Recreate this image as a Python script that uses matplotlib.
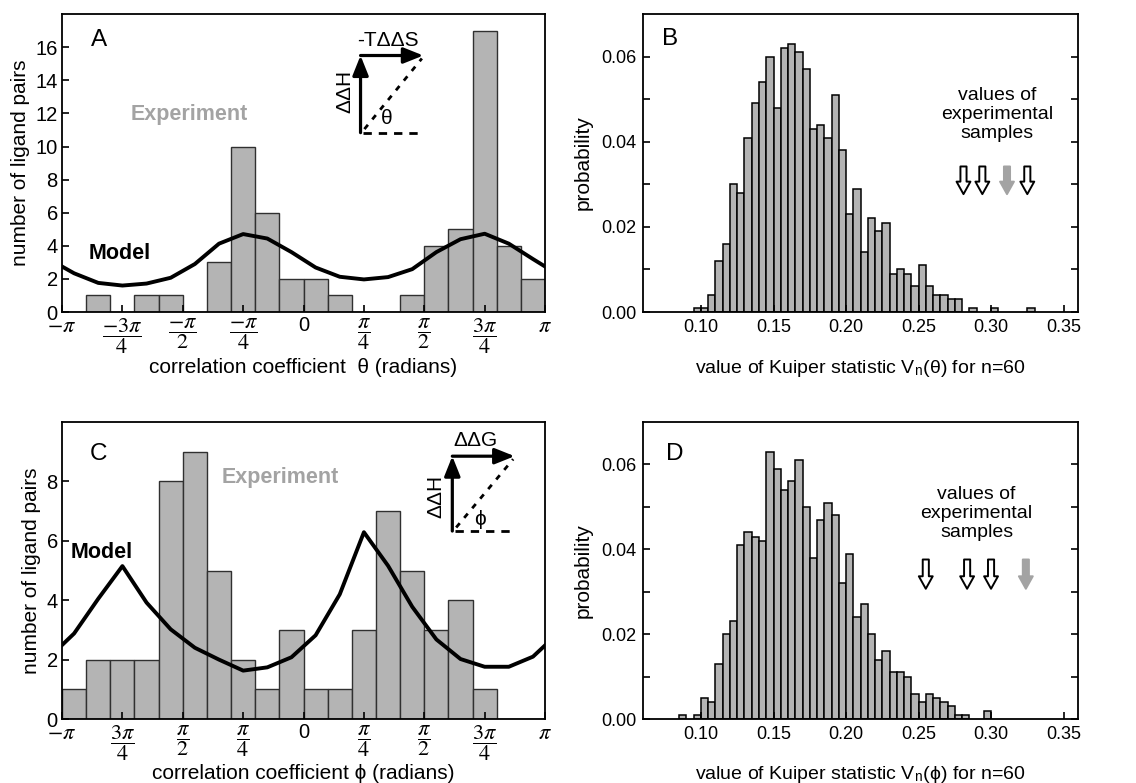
# Kuiper-Test: Histogramme der Korrelationswinkel und Verteilung der Teststatistik
import numpy as np
import matplotlib.pyplot as plt

plt.rcParams['font.family'] = ['Liberation Sans', 'DejaVu Sans']
plt.rcParams['mathtext.fontset'] = 'stix'
plt.rcParams['axes.linewidth'] = 1.3

# ---- Daten ----
# Panel A: Anzahl Ligandenpaare je Bin (20 Bins von -pi bis pi)
a_counts = [0, 1, 0, 1, 1, 0, 3, 10, 6, 2, 2, 1, 0, 0, 1, 4, 5, 17, 4, 2]
# Modell: Wert bei -pi, an den 20 Binmitten, bei pi
a_model = [2.75, 2.34, 1.76, 1.60, 1.72, 2.07, 2.90, 4.13, 4.71, 4.44, 3.62,
           2.69, 2.13, 1.97, 2.11, 2.59, 3.62, 4.40, 4.73, 4.13, 3.20, 2.75]

# Panel C
c_counts = [1, 2, 2, 2, 8, 9, 5, 2, 1, 3, 1, 1, 3, 7, 5, 3, 4, 1, 0, 0]
c_model = [2.49, 2.88, 4.05, 5.15, 3.92, 3.02, 2.40, 2.00, 1.63, 1.74, 2.08,
           2.82, 4.20, 6.29, 5.16, 3.78, 2.68, 2.02, 1.76, 1.76, 2.10, 2.48]

a_tick_labels = [r'$-\pi$', r'$\dfrac{-3\pi}{4}$', r'$\dfrac{-\pi}{2}$', r'$\dfrac{-\pi}{4}$', '0',
                 r'$\dfrac{\pi}{4}$', r'$\dfrac{\pi}{2}$', r'$\dfrac{3\pi}{4}$', r'$\pi$']
c_tick_labels = [r'$-\pi$', r'$\dfrac{3\pi}{4}$', r'$\dfrac{\pi}{2}$', r'$\dfrac{\pi}{4}$', '0',
                 r'$\dfrac{\pi}{4}$', r'$\dfrac{\pi}{2}$', r'$\dfrac{3\pi}{4}$', r'$\pi$']

# Panel B: Wahrscheinlichkeit je Bin (Breite 0.005, ab 0.095)
b_start = 0.095
b_probs = [0.001, 0.001, 0.004, 0.012, 0.016, 0.030, 0.028, 0.041, 0.049, 0.054,
           0.060, 0.048, 0.062, 0.063, 0.061, 0.057, 0.043, 0.044, 0.041, 0.051,
           0.038, 0.023, 0.029, 0.014, 0.022, 0.019, 0.021, 0.009, 0.010, 0.009,
           0.006, 0.011, 0.006, 0.004, 0.004, 0.003, 0.003, 0.0, 0.001, 0.0,
           0.0, 0.001, 0.0, 0.0, 0.0, 0.0, 0.001]
b_arrows = [0.281, 0.294, 0.311, 0.325]
b_arrow_gray = [False, False, True, False]

# Panel D (ab 0.085)
d_start = 0.085
d_probs = [0.001, 0.0, 0.001, 0.005, 0.004, 0.013, 0.020, 0.023, 0.041, 0.044,
           0.043, 0.042, 0.063, 0.059, 0.054, 0.056, 0.061, 0.050, 0.038, 0.047,
           0.051, 0.048, 0.032, 0.039, 0.024, 0.027, 0.020, 0.014, 0.016, 0.011,
           0.011, 0.010, 0.006, 0.004, 0.006, 0.005, 0.004, 0.003, 0.001, 0.001,
           0.0, 0.0, 0.002]
d_arrows = [0.255, 0.2835, 0.300, 0.324]
d_arrow_gray = [False, False, False, True]

bin_w = 0.005
bar_grey = '#b4b4b4'
exp_grey = '#a3a3a3'


def winkel_panel(ax, counts, model, ticklabels, ymax, yticks, xlabel, label_y):
    edges = np.linspace(-np.pi, np.pi, len(counts) + 1)
    centers = (edges[:-1] + edges[1:]) / 2
    ax.bar(edges[:-1], counts, width=np.diff(edges), align='edge',
           color=bar_grey, edgecolor='#303030', linewidth=1.0)
    xm = np.concatenate([[edges[0]], centers, [edges[-1]]])
    ax.plot(xm, model, color='black', lw=2.8, solid_joinstyle='round')
    ax.set_xlim(-np.pi, np.pi)
    ax.set_ylim(0, ymax)
    ax.set_yticks(yticks)
    ax.set_xticks(np.arange(-4, 5) * np.pi / 4)
    ax.set_xticklabels(ticklabels)
    ax.tick_params(direction='in', length=5, width=1.2, labelsize=14.5, pad=3)
    for lab in ax.get_xticklabels():
        lab.set_fontsize(16 if lab.get_text() != '0' else 14.5)
    ax.set_xlabel(xlabel, fontsize=15)
    ax.xaxis.set_label_coords(0.5, label_y)
    ax.set_ylabel('number of ligand pairs', fontsize=15, labelpad=4)


def kuiper_panel(ax, start, probs, arrows, gray, text_xy, arrow_y, xlabel, label_y):
    probs = np.array(probs)
    lefts = start + bin_w * np.arange(len(probs))
    keep = probs > 0
    ax.bar(lefts[keep], probs[keep], width=bin_w, align='edge',
           color=bar_grey, edgecolor='black', linewidth=1.1)
    ax.set_xlim(0.06, 0.36)
    ax.set_ylim(0, 0.07)
    ax.set_xticks([0.10, 0.15, 0.20, 0.25, 0.30, 0.35])
    ax.set_yticks([0.0, 0.02, 0.04, 0.06])
    ax.set_yticks([0.01, 0.03, 0.05], minor=True)
    ax.tick_params(direction='in', length=5, width=1.2, labelsize=13, right=True, pad=5)
    ax.tick_params(axis='y', which='minor', direction='in', length=5, width=1.2, right=True)
    ax.set_xlabel(xlabel, fontsize=14)
    ax.xaxis.set_label_coords(0.5, label_y)
    ax.set_ylabel('probability', fontsize=15, labelpad=6)
    ax.text(text_xy[0], text_xy[1], 'values of\nexperimental\nsamples', ha='center', va='center',
            fontsize=14, linespacing=1.15)
    for x, g in zip(arrows, gray):
        fc = exp_grey if g else 'white'
        ec = exp_grey if g else 'black'
        ax.annotate('', xy=(x, arrow_y[1]), xytext=(x, arrow_y[0]),
                    arrowprops=dict(arrowstyle='simple,head_length=0.45,head_width=0.5,tail_width=0.22',
                                    fc=fc, ec=ec, lw=1.4, shrinkA=0, shrinkB=0, mutation_scale=20))


def inset(ax, x0, y0, x1, y1, top_lab, ang_lab, top_xy, ang_xy, dh_xy):
    ax.annotate('', xy=(x0, y1), xytext=(x0, y0), xycoords='axes fraction',
                arrowprops=dict(arrowstyle='-|>,head_length=0.8,head_width=0.32', color='black',
                                lw=2.3, shrinkA=0, shrinkB=0, mutation_scale=15))
    ax.annotate('', xy=(x1, y1), xytext=(x0, y1), xycoords='axes fraction',
                arrowprops=dict(arrowstyle='-|>,head_length=0.8,head_width=0.32', color='black',
                                lw=2.3, shrinkA=0, shrinkB=0, mutation_scale=15))
    ax.plot([x0 + 0.005, x1], [y0, y0], transform=ax.transAxes, color='black', lw=2, ls=(0, (3, 2.5)))
    ax.plot([x0 + 0.008, x1 - 0.003], [y0 + 0.012, y1 - 0.01], transform=ax.transAxes,
            color='black', lw=2, ls=(0, (2, 2.5)))
    ax.text(top_xy[0], top_xy[1], top_lab, transform=ax.transAxes, ha='center', va='center', fontsize=15)
    ax.text(dh_xy[0], dh_xy[1], 'ΔΔH', transform=ax.transAxes, ha='center', va='center',
            rotation=90, fontsize=15)
    ax.text(ang_xy[0], ang_xy[1], ang_lab, transform=ax.transAxes, ha='center', va='center', fontsize=15)


fig = plt.figure(figsize=(11.36, 7.83), dpi=100)
axA = fig.add_axes([0.0546, 0.6015, 0.4252, 0.3805])
axB = fig.add_axes([0.566, 0.6015, 0.383, 0.3805])
axC = fig.add_axes([0.0546, 0.0817, 0.4252, 0.3793])
axD = fig.add_axes([0.566, 0.0817, 0.383, 0.3793])

# A
winkel_panel(axA, a_counts, a_model, a_tick_labels, 18, range(0, 17, 2),
             'correlation coefficient  θ (radians)', -0.155)
axA.text(0.076, 0.912, 'A', transform=axA.transAxes, fontsize=17.5, ha='center', va='center')
axA.text(0.264, 0.664, 'Experiment', transform=axA.transAxes, fontsize=15.5, fontweight='bold',
         color=exp_grey, ha='center', va='center')
axA.text(0.119, 0.197, 'Model', transform=axA.transAxes, fontsize=15.5, fontweight='bold',
         ha='center', va='center')
inset(axA, 0.618, 0.602, 0.748, 0.861, '-TΔΔS', 'θ', (0.674, 0.910), (0.672, 0.648), (0.585, 0.741))

# C
winkel_panel(axC, c_counts, c_model, c_tick_labels, 10, range(0, 9, 2),
             'correlation coefficient ϕ (radians)', -0.15)
axC.text(0.076, 0.891, 'C', transform=axC.transAxes, fontsize=17.5, ha='center', va='center')
axC.text(0.452, 0.812, 'Experiment', transform=axC.transAxes, fontsize=15.5, fontweight='bold',
         color=exp_grey, ha='center', va='center')
axC.text(0.083, 0.562, 'Model', transform=axC.transAxes, fontsize=15.5, fontweight='bold',
         ha='center', va='center')
inset(axC, 0.808, 0.633, 0.937, 0.885, 'ΔΔG', 'ϕ', (0.855, 0.938), (0.866, 0.672), (0.773, 0.75))

# B
kuiper_panel(axB, b_start, b_probs, b_arrows, b_arrow_gray, (0.304, 0.0465), (0.0342, 0.0277),
             r'value of Kuiper statistic V$_{\mathregular{n}}$(θ) for n=60', -0.155)
axB.text(0.063, 0.916, 'B', transform=axB.transAxes, fontsize=17.5, ha='center', va='center')

# D
kuiper_panel(axD, d_start, d_probs, d_arrows, d_arrow_gray, (0.290, 0.0485), (0.0376, 0.0307),
             r'value of Kuiper statistic V$_{\mathregular{n}}$(ϕ) for n=60', -0.15)
axD.text(0.073, 0.892, 'D', transform=axD.transAxes, fontsize=17.5, ha='center', va='center')

plt.savefig('out.png', dpi=100)
print("ok")
